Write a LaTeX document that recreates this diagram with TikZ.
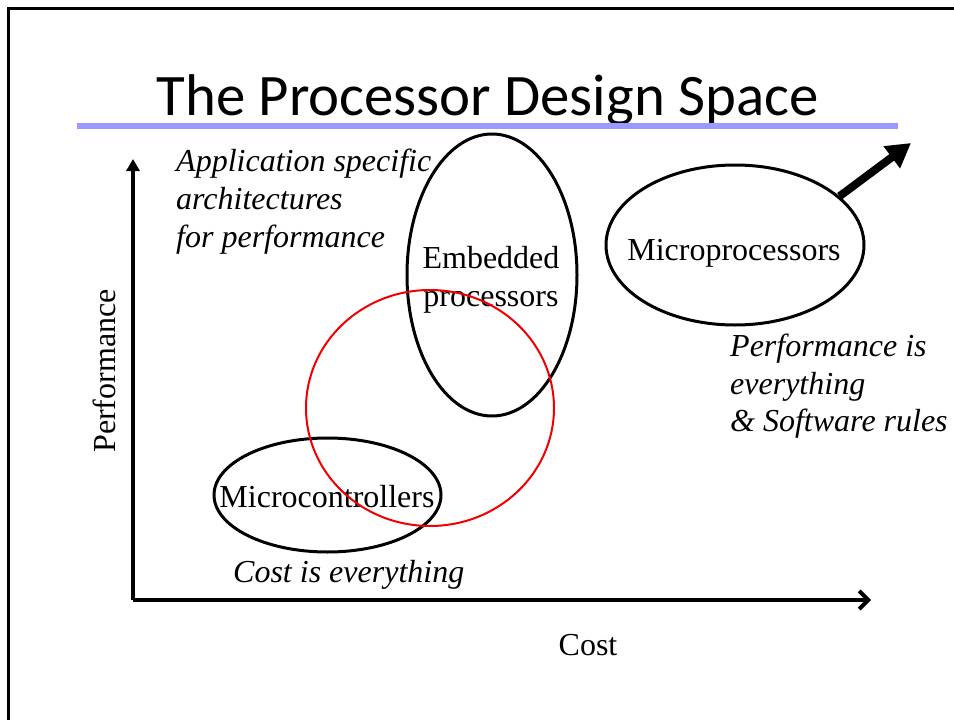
\documentclass[tikz,border=0pt]{standalone}
\usepackage{fontspec}
\setmainfont{Liberation Serif}
\newfontfamily\titlefont{Carlito}
\usetikzlibrary{arrows.meta,shapes.geometric}
\definecolor{titlerule}{RGB}{153,153,255}
\definecolor{zonered}{RGB}{240,0,0}

\begin{document}
\begin{tikzpicture}[x=1pt,y=-1pt,
  body/.style={font=\fontsize{32}{38}\selectfont, inner sep=0pt},
  note/.style={font=\fontsize{32}{38}\selectfont\itshape, inner sep=0pt, anchor=base west},
  label/.style={body, anchor=base},
  ring/.style={draw, ellipse, line width=3pt, inner sep=0pt},
  axis/.style={line width=4pt}
]
\useasboundingbox (0,0) rectangle (954,720);

% slide frame
\draw[line width=2.5pt] (954,8.5) -- (8.5,8.5) -- (8.5,720);

% title and underline
\node[font=\titlefont\fontsize{58.8}{70}\selectfont, inner sep=0pt, anchor=base]
  (title) at (487.5,115) {The Processor Design Space};
\coordinate (ruleL) at (77,126.3);
\coordinate (ruleR) at (898,126.3);
\draw[titlerule, line width=6pt] (ruleL) -- (ruleR);

% axes
\coordinate (origin) at (133,600);
\coordinate (ytip) at (133,159);
\coordinate (xtip) at (871,600);
\draw[axis, -{Triangle[length=12pt,width=13pt]}] (origin) -- (ytip);
\draw[axis, -{Straight Barb[length=9pt,width=18pt]}] (origin) -- (xtip);
\node[label, rotate=90] (perfaxis) at (115,371) {Performance};
\node[label] (costaxis) at (588,655) {Cost};

% design regions
\node[ring, minimum width=170pt, minimum height=282pt] (emb) at (492,275) {};
\node[ring, minimum width=258pt, minimum height=160pt] (mp) at (735,245) {};
\node[ring, minimum width=227pt, minimum height=114pt] (mc) at (327.5,495) {};

\node[label] (embtxt1) at (491,268) {Embedded};
\node[label] (embtxt2) at (491,306) {processors};
\node[label] (mptxt) at (734,260) {Microprocessors};
\node[label] (mctxt) at (327,507) {Microcontrollers};

% growth arrow out of the microprocessor region
\coordinate (mptip) at (911,143);
\draw[line width=8pt, -{Triangle[length=24pt,width=26pt]}] (mp.25) -- (mptip);

% annotations
\node[note] (app1) at (176,171) {Application specific};
\node[note] (app2) at (176,209) {architectures};
\node[note] (app3) at (176,247) {for performance};
\node[note] (costnote) at (233,582) {Cost is everything};
\node[note] (perf1) at (730,356) {Performance is};
\node[note] (perf2) at (730,394) {everything};
\node[note] (perf3) at (730,431) {\& Software rules};

% overlapping red region
\node[draw=zonered, ellipse, line width=2pt, inner sep=0pt,
  minimum width=248pt, minimum height=236pt] (mid) at (430,408) {};
\end{tikzpicture}
\end{document}
